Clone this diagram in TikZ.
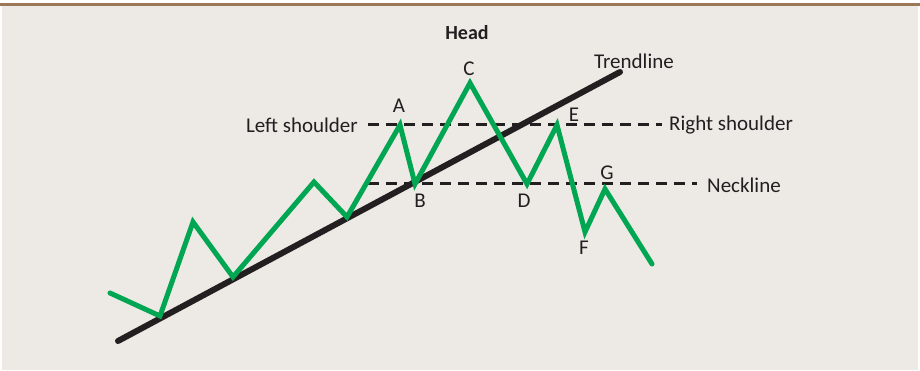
\documentclass[tikz,border=0pt]{standalone}
\usepackage{fontspec}
\setmainfont{Carlito}
\definecolor{bg}{HTML}{EDE9E5}
\definecolor{grn}{HTML}{00A651}
\definecolor{blk}{HTML}{231F20}
\definecolor{brn}{HTML}{9A7858}
\tikzset{
  lbl/.style={font=\fontsize{21}{24}\selectfont, text=blk, inner sep=0pt},
  ptlbl/.style={font=\fontsize{21}{24}\selectfont, text=blk, inner sep=0pt},
  dline/.style={blk, line width=3pt, dash pattern=on 11pt off 7pt},
  price/.style={grn, line width=5pt, line join=miter, line cap=round},
  trend/.style={blk, line width=6pt, line cap=round}
}
\begin{document}
\begin{tikzpicture}[x=1pt,y=-1pt]
\useasboundingbox (0,0) rectangle (920,371);
\fill[white] (0,0) rectangle (920,371);
\fill[bg] (2,6) rectangle (918,370);
\fill[brn] (0,3) rectangle (920,6);
% dashed lines
\coordinate (sl) at (368,125);
\coordinate (sr) at (662,125);
\coordinate (nl) at (368,184);
\coordinate (nr) at (697,184);
\draw[dline] (sl) -- (sr);
\draw[dline] (nl) -- (nr);
% trendline
\coordinate (t1) at (118,341);
\coordinate (t2) at (620,72);
\draw[trend] (t1) -- (t2);
% price path
\coordinate (p0) at (110,293);
\coordinate (p1) at (160,316);
\coordinate (p2) at (193,222);
\coordinate (p3) at (233,277);
\coordinate (p4) at (314,182);
\coordinate (p5) at (347,217);
\coordinate (A) at (400,125);
\coordinate (B) at (415,184);
\coordinate (C) at (470,83);
\coordinate (D) at (527,184);
\coordinate (E) at (557,125);
\coordinate (F) at (585,232);
\coordinate (G) at (605,189);
\coordinate (p13) at (652,264);
\draw[price] (p0) -- (p1) -- (p2) -- (p3) -- (p4) -- (p5) -- (A) -- (B) -- (C) -- (D) -- (E) -- (F) -- (G) -- (p13);
% labels
\node[lbl, font=\fontsize{20}{23}\selectfont\bfseries] (head) at (467,33) {Head};
\node[lbl] (trendl) at (634,61) {Trendline};
\node[lbl, anchor=east] (lsh) at (358,125) {Left shoulder};
\node[lbl, anchor=west] (rsh) at (669,125) {Right shoulder};
\node[lbl, anchor=west] (nk) at (707,185) {Neckline};
\node[ptlbl] (la) at (399,106) {A};
\node[ptlbl] (lb) at (420,201) {B};
\node[ptlbl] (lc) at (469,69) {C};
\node[ptlbl] (ld) at (524,201) {D};
\node[ptlbl] (le) at (574,115) {E};
\node[ptlbl] (lf) at (584,248) {F};
\node[ptlbl] (lg) at (607,173) {G};
\end{tikzpicture}
\end{document}
